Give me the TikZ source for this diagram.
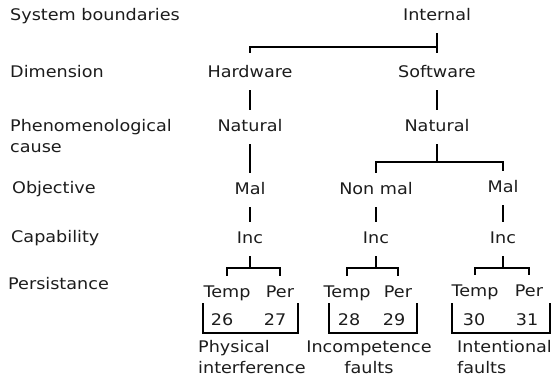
\documentclass[tikz,border=0pt]{standalone}
\usepackage{fontspec}
\setmainfont{DejaVu Sans}[FakeStretch=1.1]
\definecolor{txt}{RGB}{28,28,28}
\begin{document}
\begin{tikzpicture}[x=1pt,y=-1pt,
  every node/.style={font=\fontsize{16}{19}\selectfont, text=txt},
  lbl/.style={anchor=base west, inner sep=0pt},
  item/.style={anchor=base, text height=11.5pt, text depth=3.5pt,
    inner xsep=0pt, inner ysep=9.5pt},
  link/.style={line width=2.8pt, black},
]
\useasboundingbox (0,0) rectangle (553,381);

% row captions
\node[lbl] (lsys)   at (10,20)  {System boundaries};
\node[lbl] (ldim)   at (10,77)  {Dimension};
\node[lbl] (lphen)  at (10,131) {Phenomenological};
\node[lbl] (lcause) at (10,152) {cause};
\node[lbl] (lobj)   at (12,193) {Objective};
\node[lbl] (lcap)   at (11,242) {Capability};
\node[lbl] (lpers)  at (8,289)  {Persistance};

% tree entries
\node[item] (int) at (437,20)  {Internal};
\node[item] (hw)  at (250,77)  {Hardware};
\node[item] (sw)  at (437,77)  {Software};
\node[item] (nh)  at (250,131) {Natural};
\node[item] (ns)  at (437,131) {Natural};
\node[item] (m1)  at (250,194) {Mal};
\node[item] (m2)  at (376,194) {Non mal};
\node[item] (m3)  at (503,192) {Mal};
\node[item] (i1)  at (250,243) {Inc};
\node[item] (i2)  at (376,243) {Inc};
\node[item] (i3)  at (503,243) {Inc};
\node[item] (t1)  at (227,297) {Temp};
\node[item] (p1)  at (280,297) {Per};
\node[item] (t2)  at (347,297) {Temp};
\node[item] (p2)  at (398,297) {Per};
\node[item] (t3)  at (475,296) {Temp};
\node[item] (p3)  at (529,296) {Per};

% fault numbers
\node[item] (n26) at (222,325) {26};
\node[item] (n27) at (275,325) {27};
\node[item] (n28) at (349,325) {28};
\node[item] (n29) at (394,325) {29};
\node[item] (n30) at (474,325) {30};
\node[item] (n31) at (527,325) {31};

% fault classes
\node[lbl] (phys)  at (198,352) {Physical};
\node[lbl] (inter) at (198,373) {interference};
\node[item, inner ysep=0pt] (incp) at (369,352) {Incompetence};
\node[item, inner ysep=0pt] (fa2)  at (369,373) {faults};
\node[lbl] (intn)  at (457,352) {Intentional};
\node[lbl] (fa3)   at (457,373) {faults};

% junction points
\coordinate (j0) at (437,47);
\coordinate (j1) at (437,162);
\coordinate (k1) at (250,268);
\coordinate (k2) at (376,268);
\coordinate (k3) at (503,268);
\coordinate (u1a) at (203,303);
\coordinate (u1b) at (298,303);
\coordinate (u2a) at (329,303);
\coordinate (u2b) at (417,303);
\coordinate (u3a) at (452,303);
\coordinate (u3b) at (550,303);

% connectors
\draw[link] (int.south) -- ([yshift=3pt]sw.north);
\draw[link] (j0) -| ([yshift=3pt]hw.north);
\draw[link] (hw.south) -- (nh.north);
\draw[link] (sw.south) -- (ns.north);
\draw[link] (nh.south) -- (m1.north);
\draw[link] (ns.south) -- (j1);
\draw[link] (m2.north) |- (j1) -| (m3.north);
\draw[link] (m1.south) -- (i1.north);
\draw[link] (m2.south) -- (i2.north);
\draw[link] (m3.south) -- (i3.north);
\draw[link] (i1.south) -- (k1);
\draw[link] (i2.south) -- (k2);
\draw[link] (i3.south) -- (k3);
\draw[link] (t1.north) |- (k1) -| (p1.north);
\draw[link] (t2.north) |- (k2) -| (p2.north);
\draw[link] (t3.north) |- (k3) -| (p3.north);

% brackets grouping the numbers
\draw[link] (u1a) -- ++(0,30) -| (u1b);
\draw[link] (u2a) -- ++(0,30) -| (u2b);
\draw[link] (u3a) -- ++(0,30) -| (u3b);
\end{tikzpicture}
\end{document}
